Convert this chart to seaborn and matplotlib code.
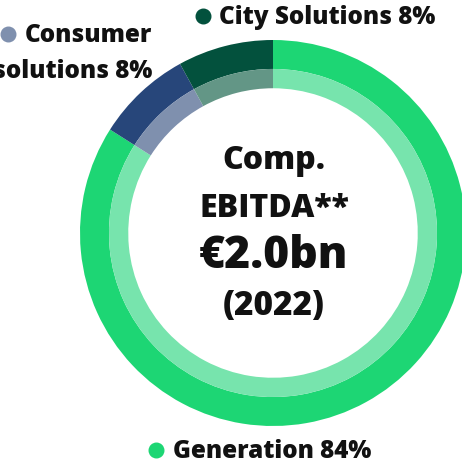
import matplotlib
matplotlib.use("Agg")
import matplotlib.pyplot as plt
import seaborn as sns

# Data
segments = ["Generation", "Consumer solutions", "City Solutions"]
shares = [84, 8, 8]
outer_colors = ["#1dd674", "#27467a", "#03513d"]
inner_colors = ["#77e4ad", "#7f90ae", "#639686"]

center_lines = ["Comp.", "EBITDA**", "€2.0bn", "(2022)"]

sns.set_theme(style="white")
plt.rcParams["font.family"] = ["Open Sans", "DejaVu Sans"]

W, H = 462, 468
fig = plt.figure(figsize=(W / 100, H / 100), dpi=100)
ax = fig.add_axes([0, 0, 1, 1])

cx, cy = 273, H - 233
R = 193

# outer ring
ax.pie(shares, colors=outer_colors, startangle=90, counterclock=False,
       radius=R, center=(cx, cy), frame=True,
       wedgeprops=dict(width=R * 0.15, linewidth=0))
# inner lighter ring
ax.pie(shares, colors=inner_colors, startangle=90, counterclock=False,
       radius=R * 0.85, center=(cx, cy), frame=True,
       wedgeprops=dict(width=R * 0.10, linewidth=0))

ax.set_xlim(0, W)
ax.set_ylim(0, H)
ax.set_aspect("equal")
ax.axis("off")

# center text
ctr_kw = dict(ha="center", va="center", fontweight="heavy", color="#111111")
ax.text(cx + 1, H - 161, center_lines[0], fontsize=23, **ctr_kw)
ax.text(cx + 1, H - 209, center_lines[1], fontsize=23, **ctr_kw)
ax.text(cx + 1, H - 256, center_lines[2], fontsize=32, **ctr_kw)
ax.text(cx + 1, H - 306, center_lines[3], fontsize=24, **ctr_kw)

# labels with dot markers
lab_kw = dict(fontsize=17.5, fontweight="heavy", color="#111111", va="center")
ax.scatter([203], [H - 16], s=110, color=outer_colors[2], clip_on=False)
ax.text(219, H - 17, f"{segments[2]} {shares[2]}%", ha="left", **lab_kw)

ax.scatter([8], [H - 34], s=110, color=inner_colors[1], clip_on=False)
ax.text(152, H - 35, "Consumer", ha="right", **lab_kw)
ax.text(152, H - 71, f"solutions {shares[1]}%", ha="right", **lab_kw)

ax.scatter([156], [H - 450], s=110, color=outer_colors[0], clip_on=False)
ax.text(173, H - 452, f"{segments[0]} {shares[0]}%", ha="left", **lab_kw)

fig.savefig("out.png", dpi=100, facecolor="white")
